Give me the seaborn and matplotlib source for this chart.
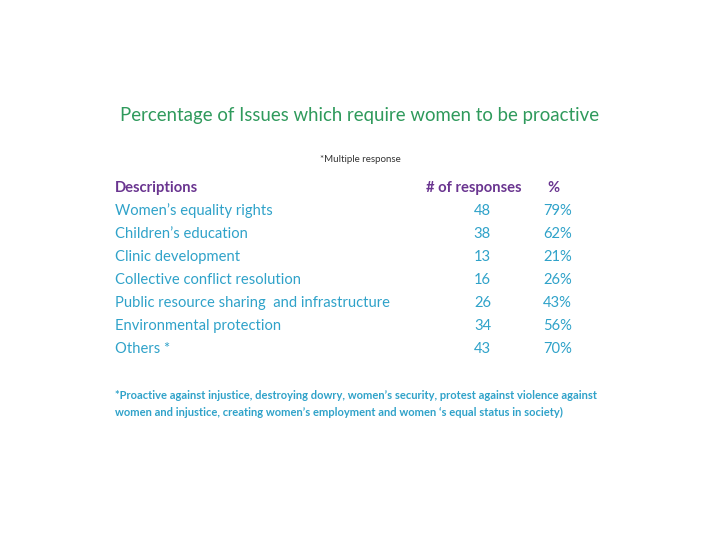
import matplotlib
matplotlib.use("Agg")
import matplotlib.pyplot as plt
import seaborn as sns
import pandas as pd

# Data
descriptions = [
    "Women\u2019s equality rights",
    "Children\u2019s education",
    "Clinic development",
    "Collective conflict resolution",
    "Public resource sharing  and infrastructure",
    "Environmental protection",
    "Others *",
]
responses = [48, 38, 13, 16, 26, 34, 43]
percents = [79, 62, 21, 26, 43, 56, 70]
headers = ["Descriptions", "# of responses", "%"]

title = "Percentage of Issues which require women to be proactive"
subtitle = "*Multiple response"
footnote = ("*Proactive against injustice, destroying dowry, women\u2019s security, protest against violence against\n"
            "women and injustice, creating women\u2019s employment and women \u2018s equal status in society)")

df = pd.DataFrame({"Description": descriptions, "Responses": responses, "Percent": percents})

sns.set_theme(style="white")
plt.rcParams["font.family"] = ["Lato", "DejaVu Sans"]

green = "#2f9a5c"
purple = "#6a3590"
cyan = "#2fa2c9"

fig = plt.figure(figsize=(7.2, 5.4), dpi=100)
ax = fig.add_axes([0, 0, 1, 1])
ax.set_xlim(0, 720)
ax.set_ylim(540, 0)
ax.axis("off")

ax.text(360, 115, title, color=green, fontsize=13.4, ha="center", va="center")
ax.text(360, 159, subtitle, color="#333333", fontsize=7, ha="center", va="center")

# Header row
row0, step = 188, 23
ax.text(115, row0, headers[0], color=purple, fontsize=10.6, fontweight="bold", ha="left", va="center")
ax.text(521, row0, headers[1], color=purple, fontsize=10.6, fontweight="bold", ha="right", va="center")
ax.text(547, row0, headers[2], color=purple, fontsize=10.6, fontweight="bold", ha="left", va="center")

# Body rows
for i, r in df.iterrows():
    y = row0 + step * (i + 1)
    ax.text(115, y, r["Description"], color=cyan, fontsize=10.6, ha="left", va="center")
    ax.text(491, y, str(r["Responses"]), color=cyan, fontsize=10.6, ha="right", va="center")
    ax.text(543, y, f"{r['Percent']}%", color=cyan, fontsize=10.6, ha="left", va="center")

ax.text(115, 404, footnote, color=cyan, fontsize=8, fontweight="bold", ha="left", va="center",
        linespacing=1.65)

fig.savefig("out.png", dpi=100)
